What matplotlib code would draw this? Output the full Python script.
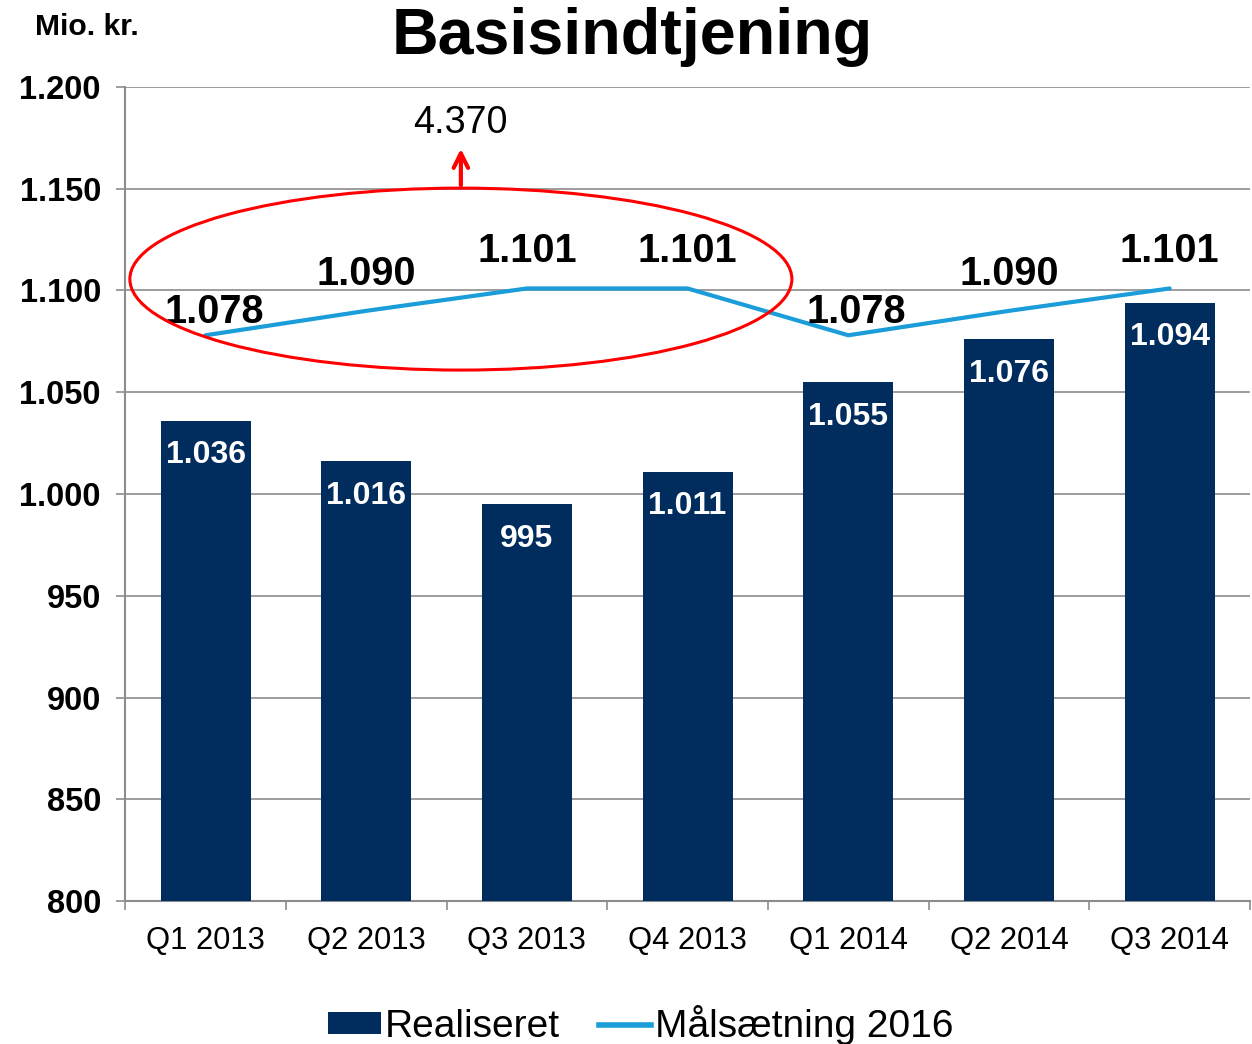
import matplotlib
matplotlib.use("Agg")
import matplotlib.pyplot as plt
from matplotlib.patches import Ellipse, Patch
from matplotlib.lines import Line2D
from matplotlib.ticker import FixedLocator

plt.rcParams['font.family'] = ['Liberation Sans', 'DejaVu Sans']

# data
kvartaler = ["Q1 2013", "Q2 2013", "Q3 2013", "Q4 2013", "Q1 2014", "Q2 2014", "Q3 2014"]
realiseret = [1036, 1016, 995, 1011, 1055, 1076, 1094]
maal_2016 = [1078, 1090, 1101, 1101, 1078, 1090, 1101]
maal_label_dx = [6, 0, 0, 0, 6, 0, 0]
maal_label_dy = [3, 13, 13, 13, 3, 13, 13]
total_2016 = "4.370"

def dk(v):
    s = f"{v:,}".replace(",", ".")
    return s

navy = "#002D5E"
cyan = "#1B9DD9"
grey = "#8C8C8C"

fig = plt.figure(figsize=(12.52, 10.44), dpi=100)
ax = fig.add_axes([0.1, 0.1369, 0.8984, 0.7798])

x = list(range(len(kvartaler)))
ax.bar(x, realiseret, width=0.56, color=navy, zorder=3)
ax.plot(x, maal_2016, color=cyan, lw=3, zorder=4, solid_capstyle='round')

for xi, v in zip(x, realiseret):
    ax.annotate(dk(v), (xi, v), xytext=(0, -14), textcoords='offset points',
                ha='center', va='top', color='white', fontsize=23, fontweight='bold', zorder=5)
for xi, v, dx, dy in zip(x, maal_2016, maal_label_dx, maal_label_dy):
    ax.annotate(dk(v), (xi, v), xytext=(dx, dy), textcoords='offset points',
                ha='center', va='bottom', color='black', fontsize=28.5, fontweight='bold', zorder=5)

ax.set_xlim(-0.5, 6.5)
ax.set_ylim(800, 1200)
ax.set_yticks(range(800, 1201, 50))
ax.set_yticklabels([dk(v) for v in range(800, 1201, 50)], fontsize=23.5, fontweight='bold')
ax.set_xticks(x)
ax.set_xticklabels(kvartaler, fontsize=22.3)
ax.xaxis.set_minor_locator(FixedLocator([i + 0.5 for i in range(-1, 7)]))
ax.tick_params(axis='x', which='major', length=0, pad=18)
ax.tick_params(axis='x', which='minor', length=6.5, color=grey, width=1.2)
ax.tick_params(axis='y', length=6.5, color=grey, width=1.2, pad=11)

ax.grid(axis='y', color=grey, lw=1.2, zorder=0)
for s in ['top', 'right']:
    ax.spines[s].set_visible(False)
for s in ['left', 'bottom']:
    ax.spines[s].set_color(grey)
    ax.spines[s].set_linewidth(1.5)

# red ellipse + arrow
ax.add_patch(Ellipse((1.589, 1105.6), 4.12, 89.4, fill=False, edgecolor='#FF0000',
                     lw=2.2, zorder=6, clip_on=False))
ax.annotate('', xy=(1.589, 1171), xytext=(1.589, 1150.3),
            arrowprops=dict(arrowstyle='->', color='#FF0000', lw=3, mutation_scale=26), zorder=6)
ax.text(1.589, 1182.3, total_2016, ha='center', va='center', fontsize=27.2)

fig.text(0.505, 0.965, "Basisindtjening", ha='center', va='center', fontsize=46.5, fontweight='bold')
fig.text(0.069, 0.974, "Mio. kr.", ha='center', va='center', fontsize=21.7, fontweight='bold')

handles = [Patch(facecolor=navy, edgecolor='none'), Line2D([], [], color=cyan, lw=4)]
fig.legend(handles, ["Realiseret", "Målsætning 2016"], loc='center',
           bbox_to_anchor=(0.512, 1 - 1025 / 1044), ncol=2, frameon=False, fontsize=28,
           handlelength=1.35, handleheight=0.5, handletextpad=0.1, columnspacing=1.0)

fig.savefig("out.png", dpi=100)
